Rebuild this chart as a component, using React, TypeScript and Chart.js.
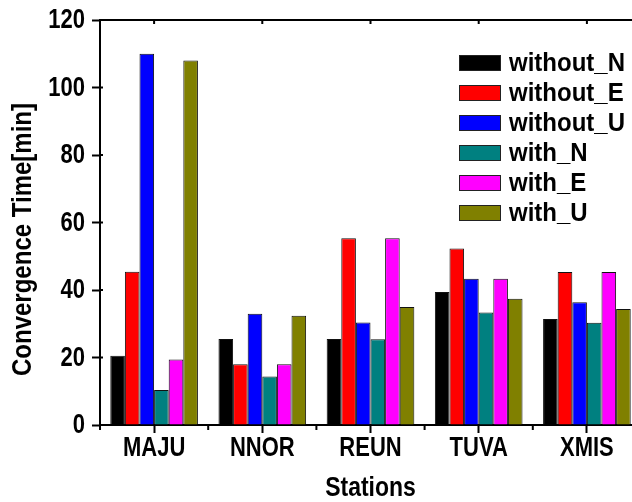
import React, { useEffect, useRef } from "react";
import { Chart, registerables } from "chart.js";

Chart.register(...registerables);

const FONT = '"Liberation Sans", Arial, Helvetica, sans-serif';

const stations = ["MAJU", "NNOR", "REUN", "TUVA", "XMIS"];
const seriesNames = ["without_N", "without_E", "without_U", "with_N", "with_E", "with_U"];
const seriesColors = ["#000000", "#ff0000", "#0000ff", "#008080", "#ff00ff", "#808000"];
const withoutN = [20.5, 25.5, 25.5, 39.4, 31.4];
const withoutE = [45.4, 18, 55.3, 52.3, 45.3];
const withoutU = [110, 33, 30.4, 43.3, 36.4];
const withN = [10.4, 14.4, 25.4, 33.3, 30.3];
const withE = [19.4, 18, 55.3, 43.3, 45.3];
const withU = [108, 32.4, 35, 37.4, 34.4];
const seriesValues = [withoutN, withoutE, withoutU, withN, withE, withU];
const yTickValues = [0, 20, 40, 60, 80, 100, 120];
const yAxisTitle = "Convergence Time[min]";
const xAxisTitle = "Stations";

function drawText(
  ctx: CanvasRenderingContext2D,
  text: string,
  x: number,
  y: number,
  size: number,
  sy: number,
  align: CanvasTextAlign,
  rotate = false
) {
  ctx.save();
  ctx.translate(x, y);
  if (rotate) ctx.rotate(-Math.PI / 2);
  ctx.scale(1, sy);
  ctx.font = `bold ${size}px ${FONT}`;
  ctx.fillStyle = "#000";
  ctx.textAlign = align;
  ctx.textBaseline = "middle";
  ctx.fillText(text, 0, 0);
  ctx.restore();
}

const framePlugin = {
  id: "frame",
  afterDraw(chart: any) {
    const { ctx, chartArea } = chart;
    const xs = chart.scales.x;
    const ys = chart.scales.y;
    const { left, right, top, bottom } = chartArea;
    ctx.save();
    ctx.strokeStyle = "#000";
    ctx.lineWidth = 2;
    ctx.beginPath();
    ctx.moveTo(left - 1, top);
    ctx.lineTo(right, top);
    const step = xs.getPixelForValue(1) - xs.getPixelForValue(0);
    for (let i = 0; i <= stations.length; i++) {
      const px = xs.getPixelForValue(0) - step / 2 + i * step;
      ctx.moveTo(px, bottom);
      ctx.lineTo(px, bottom + 5);
    }
    for (let i = 0; i < stations.length; i++) {
      const px = xs.getPixelForValue(i);
      ctx.moveTo(px, top);
      ctx.lineTo(px, top + 4);
    }
    for (const v of yTickValues) {
      const py = ys.getPixelForValue(v);
      ctx.moveTo(left, py);
      ctx.lineTo(left + 3, py);
    }
    ctx.stroke();

    // tick labels
    for (const v of yTickValues) {
      drawText(ctx, String(v), left - 15, ys.getPixelForValue(v) + 0.5, 22, 1.25, "right");
    }
    stations.forEach((s, i) => {
      drawText(ctx, s, xs.getPixelForValue(i), bottom + 23, 22, 1.25, "center");
    });

    // axis titles
    drawText(ctx, xAxisTitle, (left + right) / 2, bottom + 63, 23, 1.2, "center");
    drawText(ctx, yAxisTitle, 23, (top + bottom) / 2 + 17, 24, 1.18, "center", true);

    // legend
    const lx = 459;
    const ly = 63;
    const rowH = 30;
    chart.data.datasets.forEach((ds: any, i: number) => {
      const cy = ly + i * rowH;
      ctx.fillStyle = ds.backgroundColor;
      ctx.fillRect(lx, cy - 8, 42, 16);
      ctx.lineWidth = 1;
      ctx.strokeStyle = "#222";
      ctx.strokeRect(lx + 0.5, cy - 7.5, 41, 15);
      drawText(ctx, ds.label, lx + 50, cy + 1, 24, 1.05, "left");
    });
    ctx.restore();
  },
};

export default function App() {
  const ref = useRef<HTMLCanvasElement | null>(null);
  useEffect(() => {
    if (!ref.current) return;
    const chart = new Chart(ref.current, {
      type: "bar",
      data: {
        labels: stations,
        datasets: seriesNames.map((name, i) => ({
          label: name,
          data: seriesValues[i],
          backgroundColor: seriesColors[i],
          borderColor: "#111",
          borderWidth: 1,
          barPercentage: 1,
          categoryPercentage: 0.81,
        })),
      },
      options: {
        animation: false,
        responsive: false,
        devicePixelRatio: 1,
        layout: { padding: { top: 20, right: 19, left: 0, bottom: 0 } },
        plugins: {
          legend: { display: false },
          tooltip: { enabled: false },
        },
        scales: {
          x: {
            type: "category",
            offset: true,
            grid: {
              display: true,
              drawOnChartArea: false,
              offset: false,
              tickLength: 8,
              tickWidth: 2,
              tickColor: "#000",
            },
            border: { display: true, color: "#000", width: 2 },
            ticks: { display: false },
            title: { display: false },
            afterFit(scale: any) {
              scale.height = 77;
            },
          },
          y: {
            min: 0,
            max: 120,
            grid: {
              display: true,
              drawOnChartArea: false,
              tickLength: 8,
              tickWidth: 2,
              tickColor: "#000",
            },
            border: { display: true, color: "#000", width: 2 },
            ticks: { display: false },
            afterBuildTicks(scale: any) {
              scale.ticks = yTickValues.map((v) => ({ value: v }));
            },
            afterFit(scale: any) {
              scale.width = 100;
            },
          },
        },
      },
      plugins: [framePlugin],
    } as any);
    return () => chart.destroy();
  }, []);

  return (
    <div
      style={{
        position: "fixed",
        left: 0,
        top: 0,
        width: 632,
        height: 502,
        overflow: "hidden",
        background: "#fff",
      }}
    >
      <canvas ref={ref} width={660} height={502} style={{ display: "block", width: 660, height: 502 }} />
    </div>
  );
}
